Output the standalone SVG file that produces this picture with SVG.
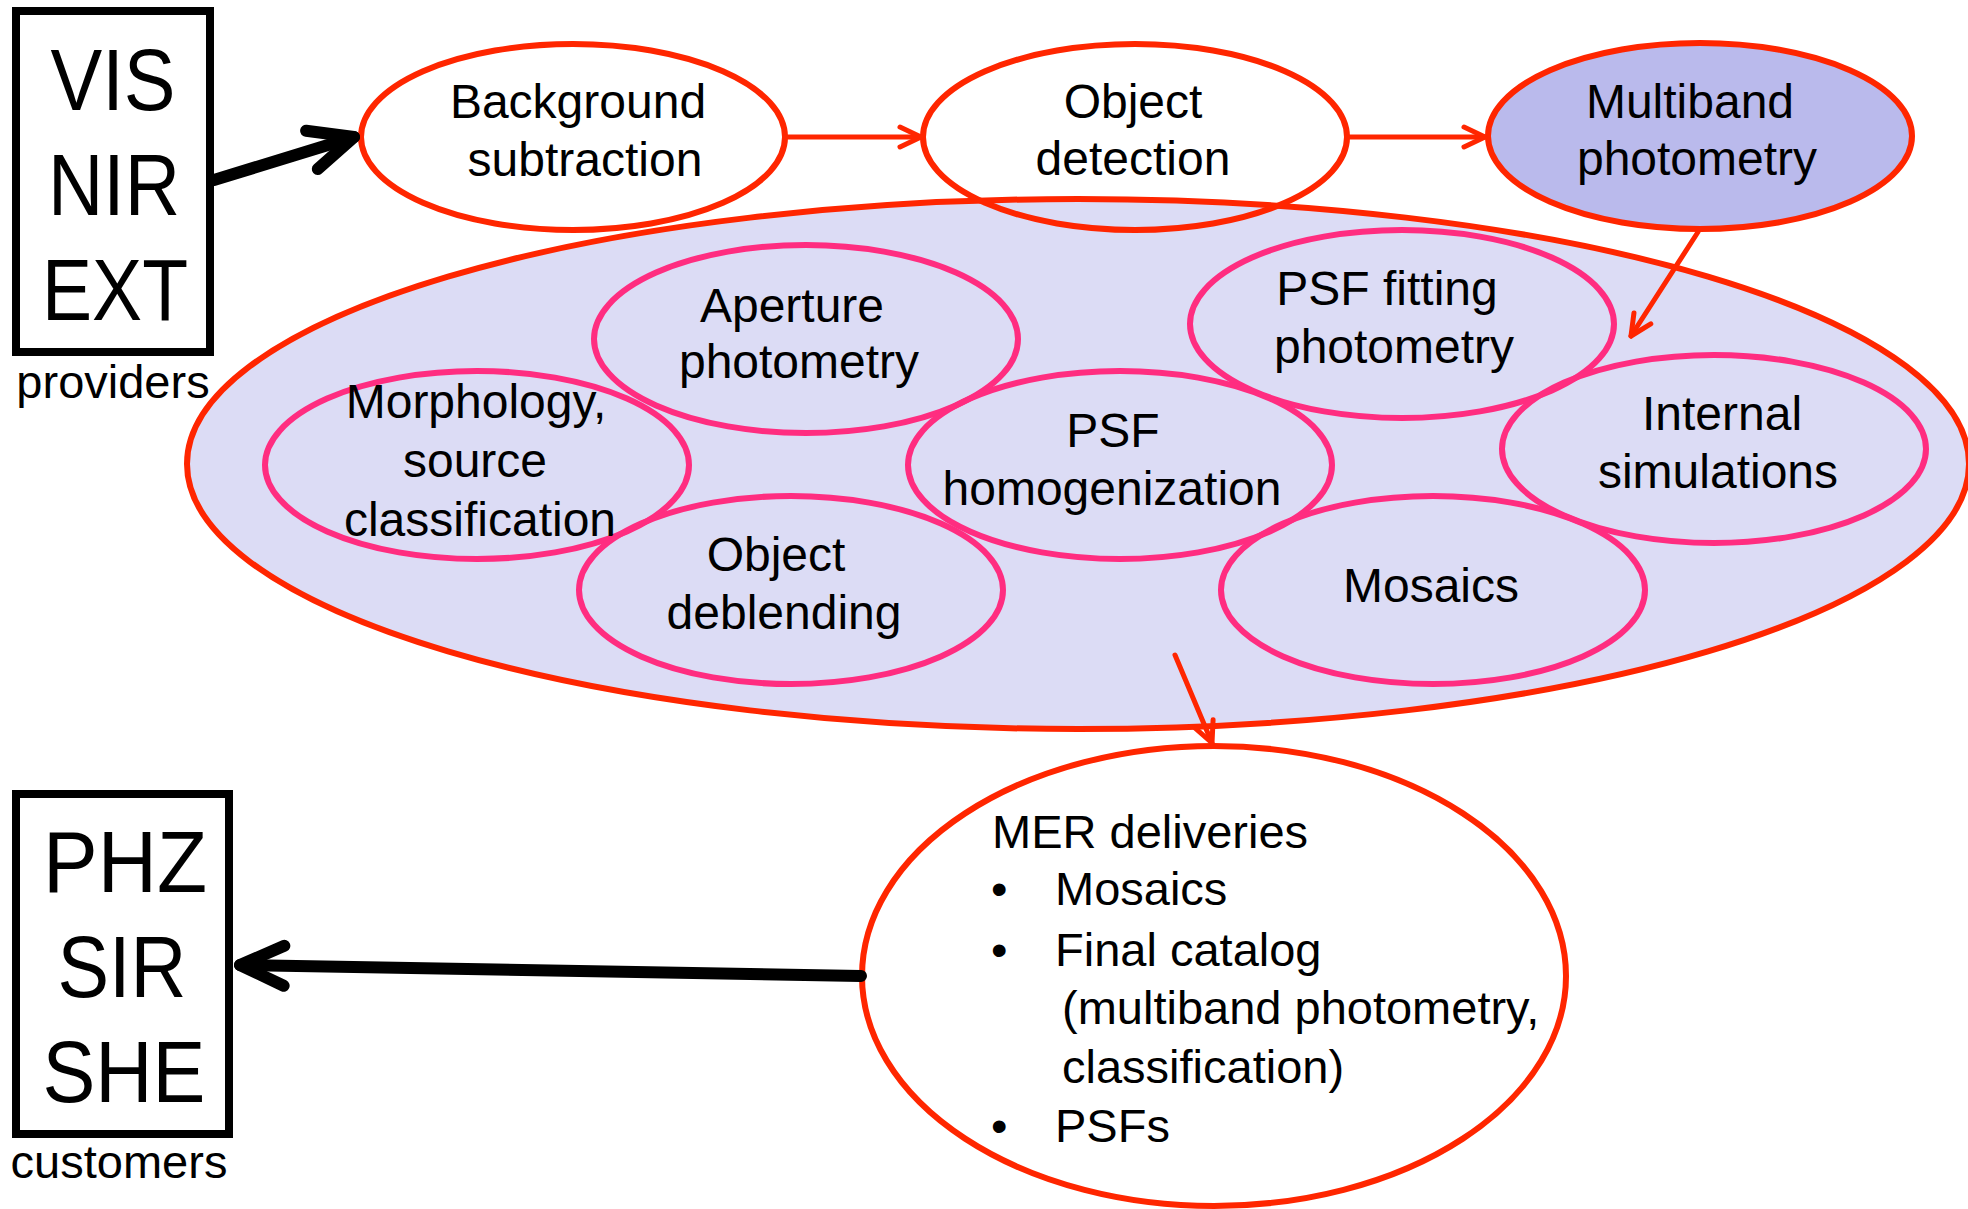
<svg xmlns="http://www.w3.org/2000/svg" width="1968" height="1209" viewBox="0 0 1968 1209">
  <defs>
    <style>
      text { font-family: "Liberation Sans", Arial, Helvetica, sans-serif; fill: #000; }
      .lbl { font-size: 48px; text-anchor: middle; }
      .sys { font-size: 88px; text-anchor: middle; }
      .cap { font-size: 47px; text-anchor: middle; }
      .mer { font-size: 47px; }
      .box { fill: none; stroke: #000; stroke-width: 8; }
      .step { fill: none; stroke: #ff2600; stroke-width: 6; }
      .task { fill: none; stroke: #ff2d80; stroke-width: 6; }
      .flow { fill: none; stroke: #ff2600; stroke-width: 5; stroke-linecap: round; }
      .io { fill: none; stroke: #000; stroke-width: 12; stroke-linecap: round; }
    </style>
    <marker id="head-red" markerUnits="userSpaceOnUse" refX="0" refY="0" orient="auto" overflow="visible">
      <path d="M-21,-10 L0,0 L-21,10" fill="none" stroke="#ff2600" stroke-width="5" stroke-linecap="round" stroke-linejoin="round"/>
    </marker>
    <marker id="head-black" markerUnits="userSpaceOnUse" refX="0" refY="0" orient="auto" overflow="visible">
      <path d="M-44,-20 L0,0 L-44,20" fill="none" stroke="#000" stroke-width="12" stroke-linecap="round" stroke-linejoin="round"/>
    </marker>
  </defs>

  <rect width="1968" height="1209" fill="#fff"/>

  <!-- container of the photometry tasks -->
  <g id="mer-pipeline">
    <ellipse cx="1078" cy="464" rx="891" ry="265" fill="#dcdcf5" stroke="#ff2600" stroke-width="6"/>
  </g>

  <!-- tasks inside the pipeline -->
  <g id="aperture-photometry">
    <ellipse class="task" cx="806" cy="339" rx="212" ry="94"/>
    <text class="lbl"><tspan x="792" y="322">Aperture</tspan><tspan x="799" y="378">photometry</tspan></text>
  </g>
  <g id="morphology">
    <ellipse class="task" cx="477" cy="465" rx="212" ry="94"/>
    <text class="lbl"><tspan x="476" y="418">Morphology,</tspan><tspan x="475" y="477">source</tspan><tspan x="480" y="536">classification</tspan></text>
  </g>
  <g id="psf-fitting">
    <ellipse class="task" cx="1402" cy="324" rx="212" ry="94"/>
    <text class="lbl"><tspan x="1387" y="305">PSF fitting</tspan><tspan x="1394" y="363">photometry</tspan></text>
  </g>
  <g id="psf-homogenization">
    <ellipse class="task" cx="1120" cy="465" rx="212" ry="94"/>
    <text class="lbl"><tspan x="1113" y="447">PSF</tspan><tspan x="1112" y="505">homogenization</tspan></text>
  </g>
  <g id="internal-simulations">
    <ellipse class="task" cx="1714" cy="449" rx="212" ry="94"/>
    <text class="lbl"><tspan x="1722" y="430">Internal</tspan><tspan x="1718" y="488">simulations</tspan></text>
  </g>
  <g id="object-deblending">
    <ellipse class="task" cx="791" cy="590" rx="212" ry="94"/>
    <text class="lbl"><tspan x="776" y="571">Object</tspan><tspan x="784" y="629">deblending</tspan></text>
  </g>
  <g id="mosaics">
    <ellipse class="task" cx="1433" cy="590" rx="212" ry="94"/>
    <text class="lbl" x="1431" y="602">Mosaics</text>
  </g>

  <!-- main chain -->
  <g id="background-subtraction">
    <ellipse class="step" cx="573" cy="137" rx="212" ry="93"/>
    <text class="lbl"><tspan x="578" y="118">Background</tspan><tspan x="585" y="176">subtraction</tspan></text>
  </g>
  <g id="object-detection">
    <ellipse class="step" cx="1135" cy="137" rx="212" ry="93"/>
    <text class="lbl"><tspan x="1133" y="118">Object</tspan><tspan x="1133" y="175">detection</tspan></text>
  </g>
  <g id="multiband-photometry">
    <ellipse cx="1700" cy="136" rx="212" ry="93" fill="#babaec" stroke="#ff2600" stroke-width="6"/>
    <text class="lbl"><tspan x="1690" y="118">Multiband</tspan><tspan x="1697" y="175">photometry</tspan></text>
  </g>

  <g id="mer-deliveries">
    <ellipse cx="1214" cy="976" rx="352" ry="230" fill="#fff" stroke="#ff2600" stroke-width="6"/>
    <text class="mer">
      <tspan x="992" y="848">MER deliveries</tspan>
      <tspan x="991" y="905">•</tspan><tspan x="1055" y="905">Mosaics</tspan>
      <tspan x="991" y="966">•</tspan><tspan x="1055" y="966">Final catalog</tspan>
      <tspan x="1062" y="1024">(multiband photometry,</tspan>
      <tspan x="1062" y="1083">classification)</tspan>
      <tspan x="991" y="1142">•</tspan><tspan x="1055" y="1142">PSFs</tspan>
    </text>
  </g>

  <!-- upstream and downstream systems -->
  <g id="providers">
    <rect class="box" x="16" y="11" width="194" height="341"/>
    <text class="sys" x="113" y="110" textLength="125" lengthAdjust="spacingAndGlyphs">VIS</text>
    <text class="sys" x="114" y="215" textLength="132" lengthAdjust="spacingAndGlyphs">NIR</text>
    <text class="sys" x="115" y="320" textLength="146" lengthAdjust="spacingAndGlyphs">EXT</text>
    <text class="cap" x="113" y="398">providers</text>
  </g>
  <g id="customers">
    <rect class="box" x="16" y="794" width="213" height="340"/>
    <text class="sys" x="125" y="892" textLength="164" lengthAdjust="spacingAndGlyphs">PHZ</text>
    <text class="sys" x="122" y="997" textLength="129" lengthAdjust="spacingAndGlyphs">SIR</text>
    <text class="sys" x="124" y="1102" textLength="163" lengthAdjust="spacingAndGlyphs">SHE</text>
    <text class="cap" x="119" y="1178">customers</text>
  </g>

  <g id="connectors">
    <line class="io" x1="214" y1="180" x2="354" y2="137" marker-end="url(#head-black)"/>
    <line class="flow" x1="785" y1="137" x2="921" y2="137" marker-end="url(#head-red)"/>
    <line class="flow" x1="1347" y1="137" x2="1485" y2="137" marker-end="url(#head-red)"/>
    <line class="flow" x1="1698" y1="232" x2="1631" y2="336" marker-end="url(#head-red)"/>
    <line class="flow" x1="1175" y1="655" x2="1212" y2="743" marker-end="url(#head-red)"/>
    <line class="io" x1="861" y1="976" x2="240" y2="965" marker-end="url(#head-black)"/>
  </g>
</svg>
